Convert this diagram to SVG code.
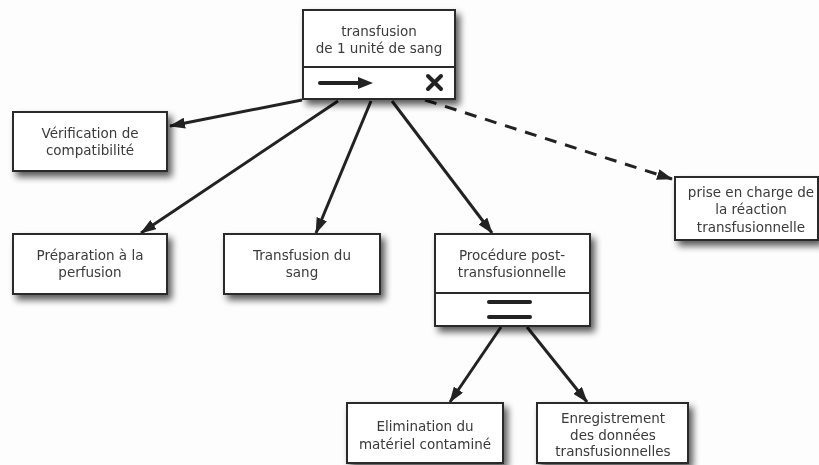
<svg xmlns="http://www.w3.org/2000/svg" width="819" height="465" viewBox="0 0 819 465">
  <defs>
    <filter id="shadow" x="-20%" y="-20%" width="150%" height="160%">
      <feGaussianBlur in="SourceAlpha" stdDeviation="3.5"/>
      <feOffset dx="4" dy="5" result="b"/>
      <feComponentTransfer><feFuncA type="linear" slope="0.65"/></feComponentTransfer>
      <feMerge><feMergeNode/><feMergeNode in="SourceGraphic"/></feMerge>
    </filter>
    <marker id="arrow" viewBox="0 0 16 11" refX="15" refY="5.5" markerWidth="16" markerHeight="11" orient="auto" markerUnits="userSpaceOnUse">
      <path d="M0,0 L16,5.5 L0,11 Z" fill="#222"/>
    </marker>
  </defs>
  <style>
    .box { fill: #fff; stroke: #2a2a2a; stroke-width: 2; }
    .lbl { font-family: "DejaVu Sans", Verdana, sans-serif; font-size: 13.5px; fill: #3a3a3a; text-anchor: middle; }
    .edge { stroke: #222; stroke-width: 3; fill: none; marker-end: url(#arrow); }
    .dash { stroke-dasharray: 12 9; }
    .mark { stroke: #222; stroke-width: 4; stroke-linecap: round; fill: none; }
  </style>
  <rect width="819" height="465" fill="#fdfdfd"/>

  <g id="connectors">
    <line class="edge" x1="302" y1="100" x2="170" y2="126"/>
    <line class="edge" x1="338" y1="101" x2="141" y2="233"/>
    <line class="edge" x1="371" y1="101" x2="316" y2="233"/>
    <line class="edge" x1="392" y1="101" x2="492" y2="233"/>
    <line class="edge dash" x1="425" y1="100" x2="672" y2="179"/>
    <line class="edge" x1="501" y1="327" x2="450" y2="402"/>
    <line class="edge" x1="527" y1="327" x2="587" y2="402"/>
  </g>

  <g id="transfusion" filter="url(#shadow)">
    <rect class="box" x="303" y="10" width="152" height="89"/>
    <line x1="303" y1="67" x2="455" y2="67" stroke="#2a2a2a" stroke-width="2"/>
    <text class="lbl" x="379" y="36">transfusion</text>
    <text class="lbl" x="379" y="53">de 1 unité de sang</text>
    <line class="mark" x1="320" y1="83" x2="362" y2="83"/>
    <path d="M358,77 L373,83 L358,89 Z" fill="#222"/>
    <path class="mark" d="M428,76 L441,89 M441,76 L428,89"/>
  </g>

  <g id="verification" filter="url(#shadow)">
    <rect class="box" x="13" y="112" width="154" height="59"/>
    <text class="lbl" x="90" y="138">Vérification de</text>
    <text class="lbl" x="90" y="155">compatibilité</text>
  </g>

  <g id="preparation" filter="url(#shadow)">
    <rect class="box" x="13" y="234" width="154" height="60"/>
    <text class="lbl" x="90" y="260">Préparation à la</text>
    <text class="lbl" x="90" y="277">perfusion</text>
  </g>

  <g id="transfusion-sang" filter="url(#shadow)">
    <rect class="box" x="224" y="234" width="156" height="60"/>
    <text class="lbl" x="302" y="260">Transfusion du</text>
    <text class="lbl" x="302" y="277">sang</text>
  </g>

  <g id="procedure" filter="url(#shadow)">
    <rect class="box" x="435" y="234" width="155" height="92"/>
    <line x1="435" y1="293" x2="590" y2="293" stroke="#2a2a2a" stroke-width="2"/>
    <text class="lbl" x="512" y="260">Procédure post-</text>
    <text class="lbl" x="512" y="277">transfusionnelle</text>
    <line class="mark" x1="489" y1="302" x2="530" y2="302"/>
    <line class="mark" x1="489" y1="317" x2="530" y2="317"/>
  </g>

  <g id="prise-en-charge" filter="url(#shadow)">
    <rect class="box" x="675" y="177" width="143" height="63"/>
    <text class="lbl" x="751" y="197">prise en charge de</text>
    <text class="lbl" x="751" y="214">la réaction</text>
    <text class="lbl" x="751" y="232">transfusionnelle</text>
  </g>

  <g id="elimination" filter="url(#shadow)">
    <rect class="box" x="347" y="403" width="156" height="60"/>
    <text class="lbl" x="425" y="431">Elimination du</text>
    <text class="lbl" x="425" y="449">matériel contaminé</text>
  </g>

  <g id="enregistrement" filter="url(#shadow)">
    <rect class="box" x="537" y="403" width="151" height="60"/>
    <text class="lbl" x="613" y="423">Enregistrement</text>
    <text class="lbl" x="613" y="440">des données</text>
    <text class="lbl" x="613" y="456">transfusionnelles</text>
  </g>
</svg>
